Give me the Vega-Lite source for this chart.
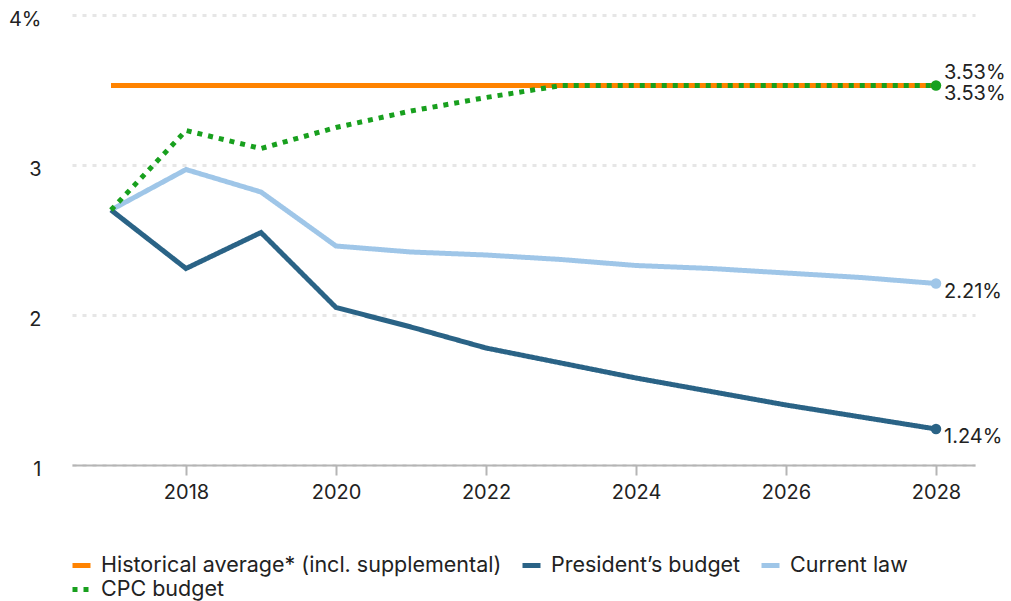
{
  "$schema": "https://vega.github.io/schema/vega-lite/v6.json",
  "width": 903,
  "height": 450,
  "autosize": "none",
  "padding": {"left": 72, "top": 15, "right": 36, "bottom": 136},
  "background": "white",
  "config": {
    "view": {"stroke": null},
    "font": "Inter",
    "text": {"font": "Inter"}
  },
  "data": {
    "values": [
      {"year": 2017, "series": "Current law", "value": 2.70},
      {"year": 2018, "series": "Current law", "value": 2.97},
      {"year": 2019, "series": "Current law", "value": 2.82},
      {"year": 2020, "series": "Current law", "value": 2.46},
      {"year": 2021, "series": "Current law", "value": 2.42},
      {"year": 2022, "series": "Current law", "value": 2.40},
      {"year": 2023, "series": "Current law", "value": 2.37},
      {"year": 2024, "series": "Current law", "value": 2.33},
      {"year": 2025, "series": "Current law", "value": 2.31},
      {"year": 2026, "series": "Current law", "value": 2.28},
      {"year": 2027, "series": "Current law", "value": 2.25},
      {"year": 2028, "series": "Current law", "value": 2.21},
      {"year": 2017, "series": "President’s budget", "value": 2.70},
      {"year": 2018, "series": "President’s budget", "value": 2.31},
      {"year": 2019, "series": "President’s budget", "value": 2.55},
      {"year": 2020, "series": "President’s budget", "value": 2.05},
      {"year": 2021, "series": "President’s budget", "value": 1.92},
      {"year": 2022, "series": "President’s budget", "value": 1.78},
      {"year": 2023, "series": "President’s budget", "value": 1.68},
      {"year": 2024, "series": "President’s budget", "value": 1.58},
      {"year": 2025, "series": "President’s budget", "value": 1.49},
      {"year": 2026, "series": "President’s budget", "value": 1.40},
      {"year": 2027, "series": "President’s budget", "value": 1.32},
      {"year": 2028, "series": "President’s budget", "value": 1.24},
      {"year": 2017, "series": "Historical average* (incl. supplemental)", "value": 3.53},
      {"year": 2018, "series": "Historical average* (incl. supplemental)", "value": 3.53},
      {"year": 2019, "series": "Historical average* (incl. supplemental)", "value": 3.53},
      {"year": 2020, "series": "Historical average* (incl. supplemental)", "value": 3.53},
      {"year": 2021, "series": "Historical average* (incl. supplemental)", "value": 3.53},
      {"year": 2022, "series": "Historical average* (incl. supplemental)", "value": 3.53},
      {"year": 2023, "series": "Historical average* (incl. supplemental)", "value": 3.53},
      {"year": 2024, "series": "Historical average* (incl. supplemental)", "value": 3.53},
      {"year": 2025, "series": "Historical average* (incl. supplemental)", "value": 3.53},
      {"year": 2026, "series": "Historical average* (incl. supplemental)", "value": 3.53},
      {"year": 2027, "series": "Historical average* (incl. supplemental)", "value": 3.53},
      {"year": 2028, "series": "Historical average* (incl. supplemental)", "value": 3.53},
      {"year": 2017, "series": "CPC budget", "value": 2.70},
      {"year": 2018, "series": "CPC budget", "value": 3.23},
      {"year": 2019, "series": "CPC budget", "value": 3.11},
      {"year": 2020, "series": "CPC budget", "value": 3.25},
      {"year": 2021, "series": "CPC budget", "value": 3.36},
      {"year": 2022, "series": "CPC budget", "value": 3.45},
      {"year": 2023, "series": "CPC budget", "value": 3.53},
      {"year": 2024, "series": "CPC budget", "value": 3.53},
      {"year": 2025, "series": "CPC budget", "value": 3.53},
      {"year": 2026, "series": "CPC budget", "value": 3.53},
      {"year": 2027, "series": "CPC budget", "value": 3.53},
      {"year": 2028, "series": "CPC budget", "value": 3.53}
    ]
  },
  "encoding": {
    "x": {
      "field": "year",
      "type": "quantitative",
      "scale": {"domain": [2016.48, 2028.52], "nice": false, "zero": false},
      "axis": {
        "title": null,
        "values": [2018, 2020, 2022, 2024, 2026, 2028],
        "format": "d",
        "grid": false,
        "domainColor": "#b5b5b5",
        "domainWidth": 2,
        "tickColor": "#b5b5b5",
        "tickWidth": 2,
        "tickSize": 10,
        "labelFontSize": 20,
        "labelColor": "#222222",
        "labelFont": "Inter",
        "labelPadding": 7
      }
    },
    "y": {
      "field": "value",
      "type": "quantitative",
      "scale": {"domain": [1, 4], "nice": false, "zero": false},
      "axis": {
        "title": null,
        "values": [1, 2, 3, 4],
        "labelExpr": "datum.value == 4 ? '4%' : datum.label",
        "domain": false,
        "ticks": false,
        "grid": true,
        "gridColor": "#e6e6e6",
        "gridWidth": 3,
        "gridDash": [4, 6],
        "labelFontSize": 20,
        "labelColor": "#222222",
        "labelFont": "Inter",
        "labelPadding": 31,
        "labelOffset": 4
      }
    }
  },
  "layer": [
    {
      "mark": {"type": "line", "strokeWidth": 5, "strokeCap": "butt"},
      "encoding": {
        "color": {
          "field": "series",
          "type": "nominal",
          "scale": {
            "domain": ["Historical average* (incl. supplemental)", "President’s budget", "Current law", "CPC budget"],
            "range": ["#ff8300", "#2a6386", "#9fc6e8", "#18a01e"]
          },
          "legend": {
            "title": null,
            "orient": "none",
            "legendX": -2,
            "legendY": 539,
            "direction": "horizontal",
            "columns": 3,
            "symbolType": "stroke",
            "symbolSize": 324,
            "symbolStrokeWidth": 5,
            "labelFontSize": 21.5,
            "labelFont": "Inter",
            "labelColor": "#222222",
            "labelOffset": 8,
            "columnPadding": 10,
            "rowPadding": 2,
            "labelLimit": 500
          }
        },
        "strokeDash": {
          "field": "series",
          "type": "nominal",
          "scale": {
            "domain": ["Historical average* (incl. supplemental)", "President’s budget", "Current law", "CPC budget"],
            "range": [[1, 0], [1, 0], [1, 0], [5, 6]]
          },
          "legend": {
            "title": null,
            "orient": "none",
            "legendX": -2,
            "legendY": 539,
            "direction": "horizontal",
            "columns": 3,
            "symbolType": "stroke",
            "symbolSize": 324,
            "symbolStrokeWidth": 5,
            "labelFontSize": 21.5,
            "labelFont": "Inter",
            "labelColor": "#222222",
            "labelOffset": 8,
            "columnPadding": 10,
            "rowPadding": 2,
            "labelLimit": 500
          }
        },
        "order": {"field": "year", "type": "quantitative"}
      }
    },
    {
      "transform": [{"filter": "datum.year == 2028 && datum.series != 'Historical average* (incl. supplemental)'"}],
      "mark": {"type": "point", "filled": true, "size": 110, "opacity": 1},
      "encoding": {
        "color": {"field": "series", "type": "nominal", "legend": null}
      }
    },
    {
      "transform": [
        {"filter": "datum.year == 2028 && datum.series != 'Historical average* (incl. supplemental)'"},
        {"calculate": "format(datum.value, '.2f') + '%'", "as": "label"}
      ],
      "mark": {"type": "text", "align": "left", "baseline": "middle", "dx": 8, "dy": 8, "fontSize": 20, "font": "Inter", "color": "#222222"},
      "encoding": {
        "text": {"field": "label", "type": "nominal"}
      }
    },
    {
      "transform": [
        {"filter": "datum.year == 2028 && datum.series == 'Historical average* (incl. supplemental)'"},
        {"calculate": "format(datum.value, '.2f') + '%'", "as": "label"}
      ],
      "mark": {"type": "text", "align": "left", "baseline": "middle", "dx": 8, "dy": -13, "fontSize": 20, "font": "Inter", "color": "#222222"},
      "encoding": {
        "text": {"field": "label", "type": "nominal"}
      }
    }
  ]
}
